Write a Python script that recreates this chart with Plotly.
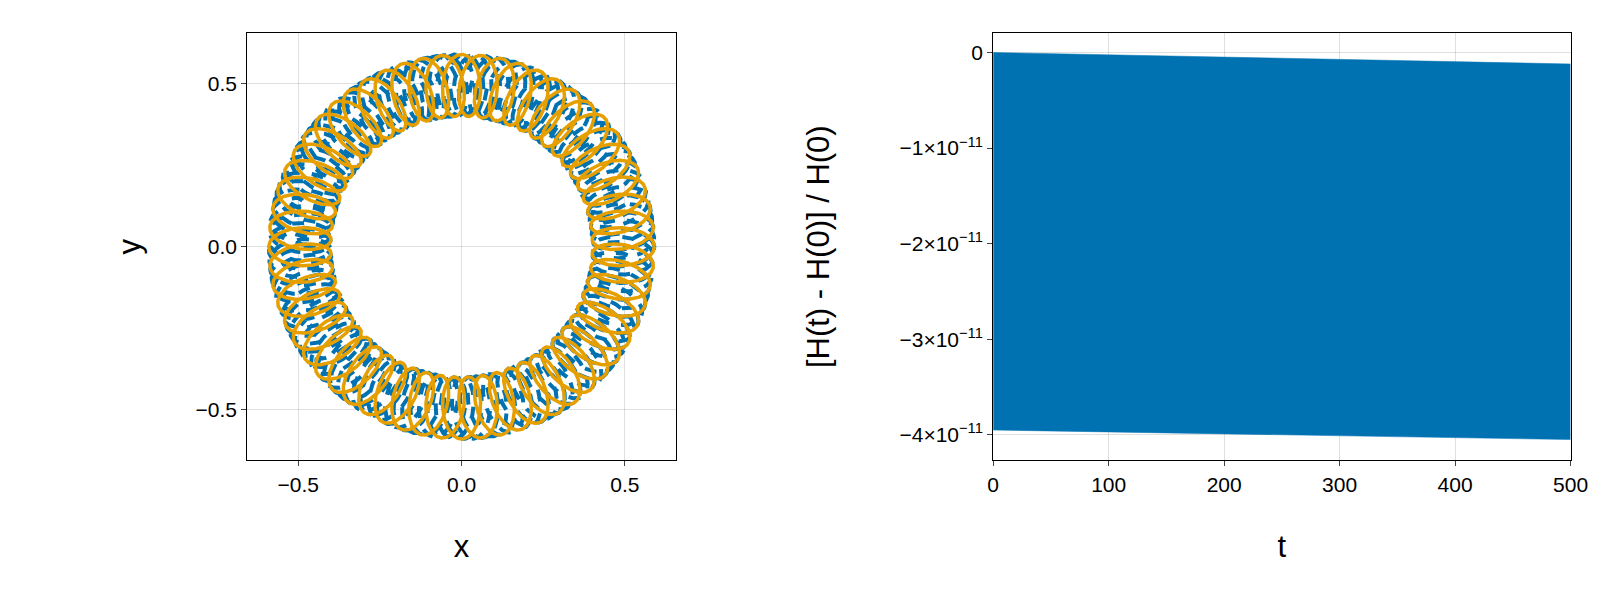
import numpy as np
import plotly.graph_objects as go

# orbit parameters
R_guide = 0.495        # guiding radius
A_radial = 0.095       # radial epicycle amplitude
B_tangent = 0.045      # tangential epicycle amplitude
orange_revs = 1
orange_loops = 60      # epicycles per revolution
blue_revs = 2
blue_loops = 60.5

# energy error band
t_vals = [0, 500]
err_upper = [0.0, -1.2e-12]
err_lower = [-3.95e-11, -4.05e-11]
y_tick_vals = [0, -1e-11, -2e-11, -3e-11, -4e-11]
y_tick_text = ["0", "−1×10<sup>−11</sup>", "−2×10<sup>−11</sup>", "−3×10<sup>−11</sup>", "−4×10<sup>−11</sup>"]

def orbit(revs, loops, phase=0.0):
    s = np.linspace(0, 2*np.pi*revs, 9000*revs)
    k = loops*s + phase
    r = R_guide + A_radial*np.cos(k)
    tt = B_tangent*np.sin(k)
    return r*np.cos(s) - tt*np.sin(s), r*np.sin(s) + tt*np.cos(s)

fig = go.Figure()
bx, by = orbit(blue_revs, blue_loops, 0.3)
fig.add_trace(go.Scatter(x=bx, y=by, mode="lines", line=dict(color="#0072b2", width=4, dash="dash"), xaxis="x", yaxis="y"))
ox, oy = orbit(orange_revs, orange_loops)
fig.add_trace(go.Scatter(x=ox, y=oy, mode="lines", line=dict(color="#e69f00", width=3.5), xaxis="x", yaxis="y"))
fig.add_trace(go.Scatter(x=t_vals, y=err_lower, mode="lines", line=dict(color="#0072b2", width=0.5), xaxis="x2", yaxis="y2"))
fig.add_trace(go.Scatter(x=t_vals, y=err_upper, mode="lines", fill="tonexty", fillcolor="#0072b2", line=dict(color="#0072b2", width=0.5), xaxis="x2", yaxis="y2"))

ax = dict(showline=True, linecolor="black", linewidth=1.2, mirror=True, ticks="outside", ticklen=5,
          gridcolor="rgba(0,0,0,0.12)", zeroline=False, tickfont=dict(size=21), title_font=dict(size=31))
fig.update_layout(
    width=1600, height=600, showlegend=False, plot_bgcolor="white", paper_bgcolor="white",
    margin=dict(l=0, r=0, t=0, b=0), font=dict(family="Liberation Sans, Arial", color="black"),
    xaxis=dict(ax, domain=[0.148, 0.420], range=[-0.656, 0.656], tickvals=[-0.5, 0, 0.5], ticktext=["−0.5", "0.0", "0.5"], title=dict(text="x", standoff=40), anchor="y"),
    yaxis=dict(ax, domain=[0.2463, 0.958], range=[-0.655, 0.655], tickvals=[-0.5, 0, 0.5], ticktext=["−0.5", "0.0", "0.5"], title=dict(text="y", standoff=45), anchor="x"),
    xaxis2=dict(ax, domain=[0.6213, 0.9877], range=[0, 500], tickvals=[0, 100, 200, 300, 400, 500], title=dict(text="t", standoff=40), anchor="y2"),
    yaxis2=dict(ax, domain=[0.2463, 0.958], range=[-4.266e-11, 0.202e-11], tickvals=y_tick_vals, ticktext=y_tick_text, title=dict(text="[H(t) - H(0)] / H(0)", standoff=60), anchor="x2"),
)
fig.write_html("out.html")
